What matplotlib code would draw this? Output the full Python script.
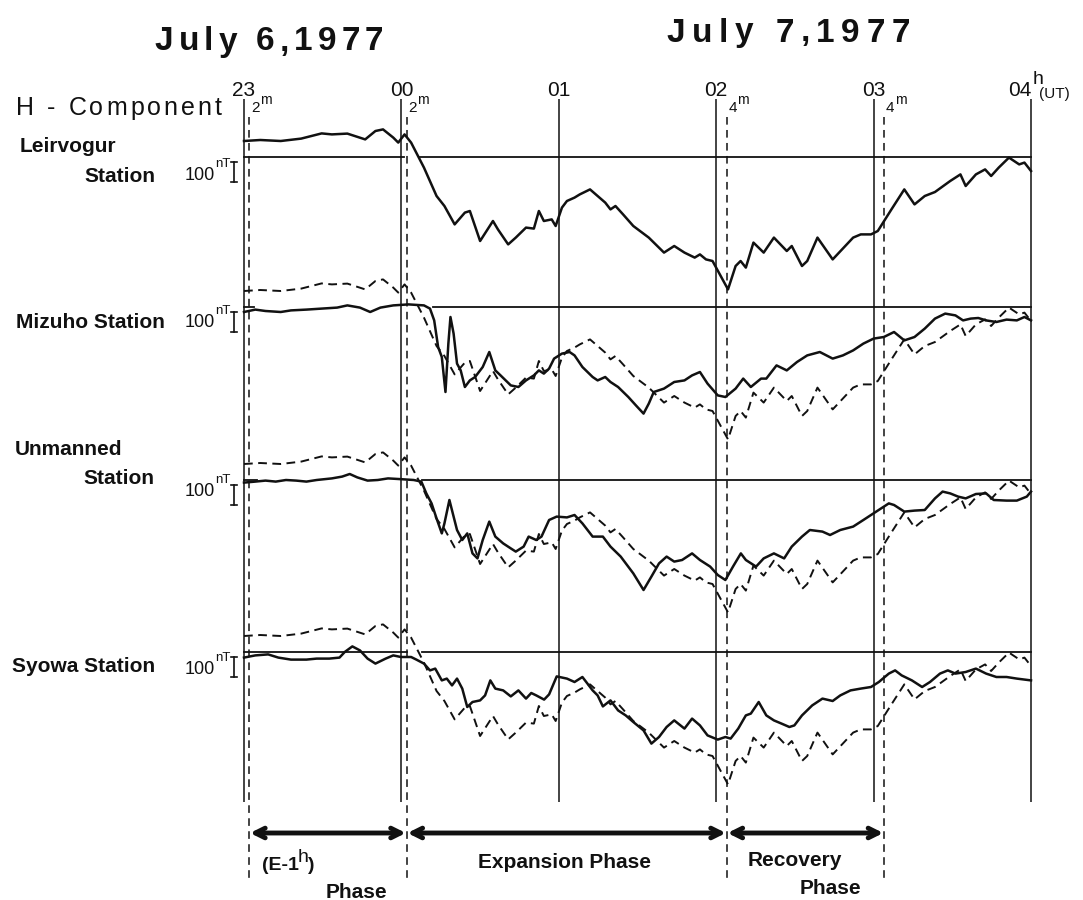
import matplotlib
matplotlib.use("Agg")
import matplotlib.pyplot as plt
from matplotlib.font_manager import FontProperties

plt.rcParams['font.family'] = ['Liberation Sans', 'DejaVu Sans']

# time in minutes after 23h UT (July 6), H deviation in nT
leirvogur_t = [0, 6.2, 14.0, 21.8, 29.6, 33.5, 39.4, 46.2, 50.1, 53.0, 56.9, 58.8, 61.2, 63.7,
               68.6, 73.4, 76.4, 80.3, 84.2, 86.1, 90.0, 94.9, 96.8, 100.7, 103.6, 107.5, 110.5,
               112.4, 114.3, 117.3, 118.8, 121.2, 123.1, 126.0, 128.0, 131.9, 134.8, 137.7, 139.7,
               141.6, 144.5, 148.4, 154.3, 160.1, 164.0, 167.9, 171.8, 173.8, 176.1, 178.6, 184.5,
               187.4, 189.3, 191.3, 194.2, 198.1, 202.0, 206.9, 208.8, 212.7, 214.7, 218.6, 224.4,
               232.2, 235.1, 239.0, 241.6, 246.8, 251.7, 255.6, 259.5, 263.4, 269.2, 273.1, 275.1,
               279.0, 282.5, 284.8, 287.7, 291.6, 295.5, 297.5, 300]
leirvogur_h = [80, 85, 80, 92, 118, 113, 117, 88, 130, 138, 97, 72, 113, 72,
               -53, -195, -245, -337, -278, -270, -420, -320, -362, -437, -403, -353, -358,
               -270, -320, -312, -345, -253, -220, -203, -187, -162, -195, -228, -262,
               -245, -287, -345, -403, -478, -445, -478, -503, -487, -512, -520, -662,
               -545, -520, -553, -428, -478, -403, -470, -445, -545, -520, -403, -512,
               -403, -387, -387, -370, -262, -162, -237, -195, -175, -120, -87, -145,
               -87, -62, -95, -53, -3, -37, -28, -70]

mizuho_t = [0, 4.3, 8.2, 14.0, 17.9, 23.8, 29.6, 35.5, 39.4, 44.2, 48.1, 52.0, 56.9, 62.7,
            68.6, 70.9, 72.5, 74.0, 75.4, 76.8, 77.9, 78.7, 79.9, 81.2, 82.6, 84.2, 86.1,
            88.1, 91.0, 93.5, 95.8, 97.8, 101.7, 104.6, 107.5, 110.5, 112.4, 114.3, 116.3,
            118.2, 121.2, 124.1, 126.0, 129.0, 132.9, 134.8, 137.7, 139.7, 142.6, 146.5,
            149.4, 152.3, 154.3, 156.2, 160.1, 164.0, 167.9, 170.8, 173.8, 176.7, 180.6,
            183.5, 187.4, 190.3, 193.2, 197.1, 199.1, 203.0, 206.9, 210.8, 214.7, 219.5,
            224.4, 228.3, 232.2, 236.1, 240.0, 243.9, 247.8, 251.7, 255.6, 259.5, 263.4,
            267.3, 271.2, 274.1, 277.0, 279.9, 282.9, 286.8, 290.7, 294.6, 297.5, 300]
mizuho_h = [-25, -13, -20, -25, -17, -13, -8, -3, 8, -3, -25, -3, 8, 13,
            8, -8, -67, -200, -250, -425, -183, -50, -133, -283, -317, -400, -367,
            -350, -300, -225, -317, -342, -392, -400, -367, -342, -317, -333, -308,
            -258, -233, -225, -242, -300, -350, -367, -350, -375, -400, -450,
            -492, -533, -483, -425, -408, -375, -367, -342, -325, -383, -442,
            -450, -408, -358, -400, -358, -358, -292, -317, -275, -242, -225,
            -258, -242, -217, -183, -158, -150, -125, -167, -150, -108, -58,
            -33, -42, -67, -58, -55, -67, -75, -63, -67, -50, -67]

unmanned_t = [0, 4.3, 8.2, 12.1, 16.0, 19.9, 23.8, 27.7, 33.5, 37.4, 40.3, 43.2, 47.1, 51.0,
              54.9, 58.8, 64.7, 67.6, 69.5, 71.5, 73.4, 75.4, 76.4, 78.3, 79.9, 81.2, 83.2,
              85.1, 87.1, 89.0, 91.0, 93.5, 95.8, 98.8, 101.7, 103.6, 106.6, 108.5, 111.4,
              113.4, 116.3, 119.2, 123.1, 126.0, 129.0, 132.9, 136.8, 139.7, 143.6, 148.4,
              152.3, 155.3, 158.2, 161.1, 164.0, 167.0, 170.8, 173.8, 177.7, 180.6, 183.5,
              186.4, 189.4, 191.3, 195.2, 198.1, 202.0, 205.9, 208.8, 212.7, 215.7, 220.5,
              223.4, 227.3, 232.2, 236.1, 241.0, 245.8, 247.8, 251.7, 255.6, 259.5, 263.4,
              266.3, 269.2, 272.2, 275.1, 279.0, 282.9, 285.8, 290.7, 294.6, 298.4, 300]
unmanned_h = [-13, -8, -3, -8, 0, -3, -8, 0, 8, 17, 30, 13, -3, 0,
              8, 5, 0, -8, -67, -117, -192, -267, -217, -100, -183, -250, -300,
              -267, -367, -392, -300, -208, -283, -317, -342, -358, -333, -283, -300,
              -283, -200, -183, -187, -175, -217, -283, -283, -333, -383, -467,
              -550, -483, -417, -383, -408, -400, -367, -400, -433, -475, -500,
              -433, -367, -400, -433, -392, -367, -392, -333, -283, -250, -258,
              -275, -250, -233, -200, -158, -117, -125, -158, -153, -150, -92,
              -58, -67, -83, -92, -70, -67, -100, -103, -103, -83, -58]

syowa_t = [0, 4.3, 9.2, 13.1, 17.9, 23.8, 27.7, 32.5, 36.4, 38.4, 41.3, 44.2, 47.1, 50.1,
           54.0, 56.9, 59.8, 63.7, 65.7, 68.6, 70.9, 72.9, 75.4, 77.3, 79.3, 81.2, 83.2,
           85.1, 87.1, 90.0, 91.9, 93.9, 95.8, 98.8, 101.7, 104.6, 107.5, 109.5, 111.4,
           114.4, 116.3, 119.2, 123.1, 126.0, 129.0, 132.9, 134.8, 136.8, 139.7, 142.6,
           145.5, 148.4, 152.3, 155.3, 158.2, 161.1, 164.0, 167.9, 170.8, 173.8, 176.7,
           180.6, 183.5, 185.5, 188.4, 191.3, 193.2, 196.2, 199.1, 202.0, 204.9, 207.9,
           209.8, 212.7, 216.6, 220.5, 224.4, 227.3, 231.2, 235.1, 239.0, 242.0, 245.8,
           248.2, 250.7, 254.6, 258.5, 261.5, 265.3, 268.3, 271.2, 275.1, 279.0, 282.9,
           286.8, 290.7, 294.6, 300]
syowa_h = [-28, -17, -12, -28, -38, -38, -33, -33, -28, 0, 28, 8, -33, -58,
           -33, -17, -25, -25, -38, -58, -92, -83, -142, -133, -167, -133, -183,
           -275, -250, -242, -217, -142, -183, -192, -222, -192, -233, -205, -217,
           -238, -212, -122, -133, -150, -125, -192, -217, -272, -242, -292,
           -317, -350, -392, -458, -425, -375, -342, -383, -333, -367, -417,
           -438, -425, -433, -383, -317, -308, -250, -317, -342, -358, -375,
           -367, -317, -267, -233, -245, -217, -192, -183, -175, -150, -108,
           -92, -117, -142, -175, -150, -108, -92, -108, -100, -83, -108,
           -125, -125, -133, -142]

hours = [0, 60, 120, 180, 240, 300]
hour_labels = ['23', '00', '01', '02', '03', '04']
marks = [2, 62, 184, 244]
mark_labels = ['2', '2', '4', '4']

# layout (pixels on a 1083 x 900 canvas)
W, H = 1083, 900
x0 = 244                    # pixel column of 23h
px_per_min = 157.4 / 60
nt_per_px = 5.0             # 100 nT = 20 px

fig = plt.figure(figsize=(W / 100, H / 100), dpi=100)
ax = fig.add_axes([0, 0, 1, 1])
ax.axis('off')
ax.set_xlim(-x0 / px_per_min, (W - x0) / px_per_min)
ax.set_ylim(H * nt_per_px, 0)
renderer = fig.canvas.get_renderer()
lc = '#111111'


def yy(p):
    return p * nt_per_px


def mx(p):
    return (p - x0) / px_per_min


def tracked(x, y, s, size, track, weight='normal', ha='left'):
    # letter-spaced text, placed one glyph at a time (pixel coordinates)
    prop = FontProperties(family='Liberation Sans', size=size, weight=weight)
    adv = [renderer.get_text_width_height_descent(s[:i], prop, ismath=False)[0] if i else 0
           for i in range(len(s) + 1)]
    total = adv[-1] + track * (len(s) - 1)
    if ha == 'center':
        x -= total / 2
    for i, ch in enumerate(s):
        fig.text((x + adv[i] + track * i) / W, 1 - y / H, ch, fontproperties=prop,
                 ha='left', va='center', color=lc)


# station rows: name lines with positions, baseline row, trace, baseline pieces, 100 nT label row
stations = [
    (['Leirvogur', 'Station'], [(20, 146), (84, 176)], 157,
     leirvogur_t, leirvogur_h, [(0, 61), (67, 300)], 176),
    (['Mizuho Station'], [(16, 322)], 307,
     mizuho_t, mizuho_h, [(0, 4), (72, 300)], 323),
    (['Unmanned', 'Station'], [(15, 449), (83, 478)], 480,
     unmanned_t, unmanned_h, [(0, 5), (68, 300)], 492),
    (['Syowa Station'], [(12, 666)], 652,
     syowa_t, syowa_h, [(0, 62), (68, 300)], 670),
]

# hour lines and the onset marks
ax.vlines(hours, yy(99), yy(802), color=lc, lw=1.1)
ax.vlines(marks, yy(117), yy(882), color=lc, lw=1.1, linestyles=(0, (5, 3.5)))

for names, pos, base, t, h, segs, lab_y in stations:
    b = yy(base)
    for a, e in segs:
        ax.plot([a, e], [b, b], color=lc, lw=1.3)
    # Leirvogur record overlaid as the dashed reference on the other stations
    if names[0] != 'Leirvogur':
        ax.plot(leirvogur_t, [b - v for v in leirvogur_h], color=lc, lw=1.4,
                linestyle=(0, (4.5, 2.8)), solid_joinstyle='round')
    ax.plot(t, [b - v for v in h], color=lc, lw=1.8, solid_joinstyle='round')

    for n, (px_, py_) in zip(names, pos):
        fig.text(px_ / W, 1 - py_ / H, n, fontsize=15, fontweight='bold',
                 va='center', ha='left', color=lc)
    # 100 nT scale bar
    bx = mx(234)
    top, bot = b + yy(5), b + yy(5) + 100
    ax.plot([bx, bx], [top, bot], color=lc, lw=1.2)
    ax.plot([bx - 1.2, bx + 1.2], [top, top], color=lc, lw=1.2)
    ax.plot([bx - 1.2, bx + 1.2], [bot, bot], color=lc, lw=1.2)
    fig.text(215 / W, 1 - lab_y / H, '100', fontsize=13, ha='right', va='center', color=lc)
    fig.text(215 / W, 1 - (lab_y - 12) / H, 'nT', fontsize=9.5, ha='left', va='center', color=lc)

# hour labels along the top
for t, lab in zip(hours[:-1], hour_labels[:-1]):
    ax.text(t, yy(90), lab, fontsize=15, ha='center', va='center', color=lc)
ax.text(hours[-1] + 0.3, yy(91), hour_labels[-1], fontsize=15, ha='right', va='center', color=lc)
ax.text(hours[-1] + 0.6, yy(79), 'h', fontsize=14, ha='left', va='center', color=lc)
ax.text(hours[-1] + 2.9, yy(94), '(UT)', fontsize=11, ha='left', va='center', color=lc)

for t, lab in zip(marks, mark_labels):
    ax.text(t + 0.6, yy(108), lab, fontsize=11, ha='left', va='center', color=lc)
    ax.text(t + 4.0, yy(100), 'm', fontsize=10, ha='left', va='center', color=lc)

# headings
tracked(269, 42, 'July 6,1977', 24, 5.0, weight='bold', ha='center')
tracked(788, 33, 'July 7,1977', 24, 6.5, weight='bold', ha='center')
tracked(16, 108, 'H - Component', 18, 3.0)

# phase arrows
phases = [(marks[0], marks[1]), (marks[1], marks[2]), (marks[2], marks[3])]
for a, e in phases:
    ax.annotate('', xy=(a + 0.3, yy(833)), xytext=(e - 0.3, yy(833)),
                arrowprops=dict(arrowstyle='<->,head_length=0.7,head_width=0.35',
                                lw=3.5, color=lc, shrinkA=0, shrinkB=0))

ax.text(mx(262), yy(866), '(E-1', fontsize=14, fontweight='bold', ha='left', va='center', color=lc)
ax.text(mx(298), yy(858), 'h', fontsize=14, ha='left', va='center', color=lc)
ax.text(mx(308), yy(866), ')', fontsize=14, fontweight='bold', ha='left', va='center', color=lc)
ax.text(mx(356), yy(892), 'Phase', fontsize=15, fontweight='bold', ha='center', va='center', color=lc)
ax.text(mx(564), yy(863), 'Expansion Phase', fontsize=15, fontweight='bold', ha='center', va='center', color=lc)
ax.text(mx(795), yy(860), 'Recovery', fontsize=15, fontweight='bold', ha='center', va='center', color=lc)
ax.text(mx(830), yy(888), 'Phase', fontsize=15, fontweight='bold', ha='center', va='center', color=lc)

fig.savefig('out.png', dpi=100, facecolor='white')
